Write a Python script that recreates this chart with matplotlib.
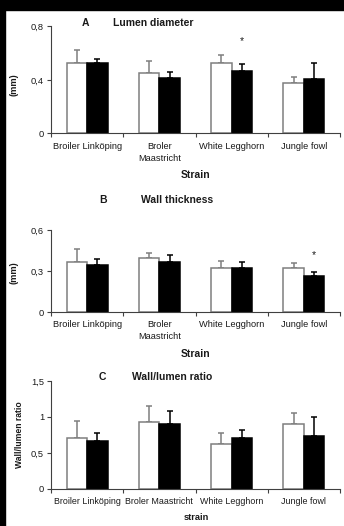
import matplotlib
matplotlib.use("Agg")
import matplotlib.pyplot as plt
from matplotlib.patches import Rectangle
import numpy as np

plt.rcParams['font.family'] = ['Liberation Sans', 'DejaVu Sans']

W, H = 344, 526

strains = ["Broiler Linköping", "Broler\nMaastricht", "White Legghorn", "Jungle fowl"]
strains_c = ["Broiler Linköping", "Broler Maastricht", "White Legghorn", "Jungle fowl"]

# A: lumen diameter (mm)
lumen_white = [0.53, 0.45, 0.53, 0.375]
lumen_white_err = [0.095, 0.09, 0.06, 0.05]
lumen_black = [0.525, 0.413, 0.465, 0.407]
lumen_black_err = [0.035, 0.05, 0.052, 0.118]

# B: wall thickness (mm)
wall_white = [0.364, 0.395, 0.32, 0.324]
wall_white_err = [0.095, 0.035, 0.051, 0.037]
wall_black = [0.342, 0.366, 0.32, 0.266]
wall_black_err = [0.044, 0.049, 0.046, 0.029]

# C: wall/lumen ratio
ratio_white = [0.714, 0.933, 0.623, 0.909]
ratio_white_err = [0.233, 0.217, 0.15, 0.15]
ratio_black = [0.662, 0.905, 0.705, 0.737]
ratio_black_err = [0.117, 0.173, 0.113, 0.263]

GREY = '#7f7f7f'
AX = '#404040'
TXT = '#1a1a1a'


def fx(x):
    return x / W


def fy(y):
    return 1 - y / H


def panel(fig, top, bottom, white, werr, black, berr, yticks, yticklabels, labels,
          star=None, labelsize=6.7):
    ax = fig.add_axes([fx(51), fy(bottom), fx(340) - fx(51), (bottom - top) / H])
    x = np.arange(4) + 0.5
    bw = 0.284
    ax.bar(x - bw / 2, white, bw, color='white', edgecolor=GREY, linewidth=1.1, zorder=2)
    ax.bar(x + bw / 2, black, bw, color='black', edgecolor='black', linewidth=1.1, zorder=2)
    ax.errorbar(x - bw / 2, white, yerr=[np.zeros(4), werr], fmt='none', ecolor=GREY,
                elinewidth=1.1, capsize=2, capthick=1.1, zorder=1)
    ax.errorbar(x + bw / 2, black, yerr=[np.zeros(4), berr], fmt='none', ecolor='black',
                elinewidth=1.1, capsize=2, capthick=1.1, zorder=1)
    if star is not None:
        i, yv = star
        ax.text(x[i] + bw / 2, yv, '*', ha='center', va='center', fontsize=7.5, color=TXT)
    ax.set_xlim(0, 4)
    ax.set_ylim(yticks[0], yticks[-1])
    ax.set_yticks(yticks)
    ax.set_yticklabels(yticklabels)
    ax.set_xticks(np.arange(5))
    ax.set_xticklabels([])
    ax.set_xticks(x, minor=True)
    ax.set_xticklabels(labels, minor=True, linespacing=1.4)
    ax.tick_params(axis='x', which='major', direction='out', length=3, width=0.8, color=AX)
    ax.tick_params(axis='x', which='minor', length=0, pad=6, labelsize=labelsize,
                   labelcolor=TXT)
    ax.tick_params(axis='y', direction='out', length=3, width=0.8, color=AX, pad=2,
                   labelsize=6.7, labelcolor=TXT)
    for s in ['top', 'right']:
        ax.spines[s].set_visible(False)
    for s in ['left', 'bottom']:
        ax.spines[s].set_color(AX)
        ax.spines[s].set_linewidth(0.8)
    return ax


fig = plt.figure(figsize=(W / 100, H / 100), dpi=100)
fig.patch.set_facecolor('white')
fig.add_artist(Rectangle((0, fy(10)), 1, 10 / H, transform=fig.transFigure,
                         color='black', zorder=10))
fig.add_artist(Rectangle((0, 0), fx(5), 1, transform=fig.transFigure,
                         color='black', zorder=10))

panel(fig, 26.5, 133.5, lumen_white, lumen_white_err, lumen_black, lumen_black_err,
      [0, 0.4, 0.8], ['0', '0,4', '0,8'], strains, star=(2, 0.69))
panel(fig, 230, 312, wall_white, wall_white_err, wall_black, wall_black_err,
      [0, 0.3, 0.6], ['0', '0,3', '0,6'], strains, star=(3, 0.42))
panel(fig, 381, 489, ratio_white, ratio_white_err, ratio_black, ratio_black_err,
      [0, 0.5, 1, 1.5], ['0', '0,5', '1', '1,5'], strains_c, labelsize=6.4)

bold = dict(fontweight='bold', color=TXT, ha='center', va='center')

fig.text(fx(85), fy(23), 'A', fontsize=7.5, **bold)
fig.text(fx(153), fy(23), 'Lumen diameter', fontsize=7.5, **bold)
fig.text(fx(103), fy(200), 'B', fontsize=7.5, **bold)
fig.text(fx(177), fy(200), 'Wall thickness', fontsize=7.5, **bold)
fig.text(fx(102), fy(377), 'C', fontsize=7.5, **bold)
fig.text(fx(172), fy(377), 'Wall/lumen ratio', fontsize=7.5, **bold)

fig.text(fx(196), fy(175), 'Strain', fontsize=7.5, **bold)
fig.text(fx(196), fy(354), 'Strain', fontsize=7.5, **bold)
fig.text(fx(196), fy(518), 'strain', fontsize=6.7, **bold)

fig.text(fx(14), fy(85), '(mm)', fontsize=6.7, rotation=90, **bold)
fig.text(fx(14), fy(273), '(mm)', fontsize=6.7, rotation=90, **bold)
fig.text(fx(20), fy(435), 'Wall/lumen ratio', fontsize=6.2, rotation=90, **bold)

fig.savefig('out.png', dpi=100)
